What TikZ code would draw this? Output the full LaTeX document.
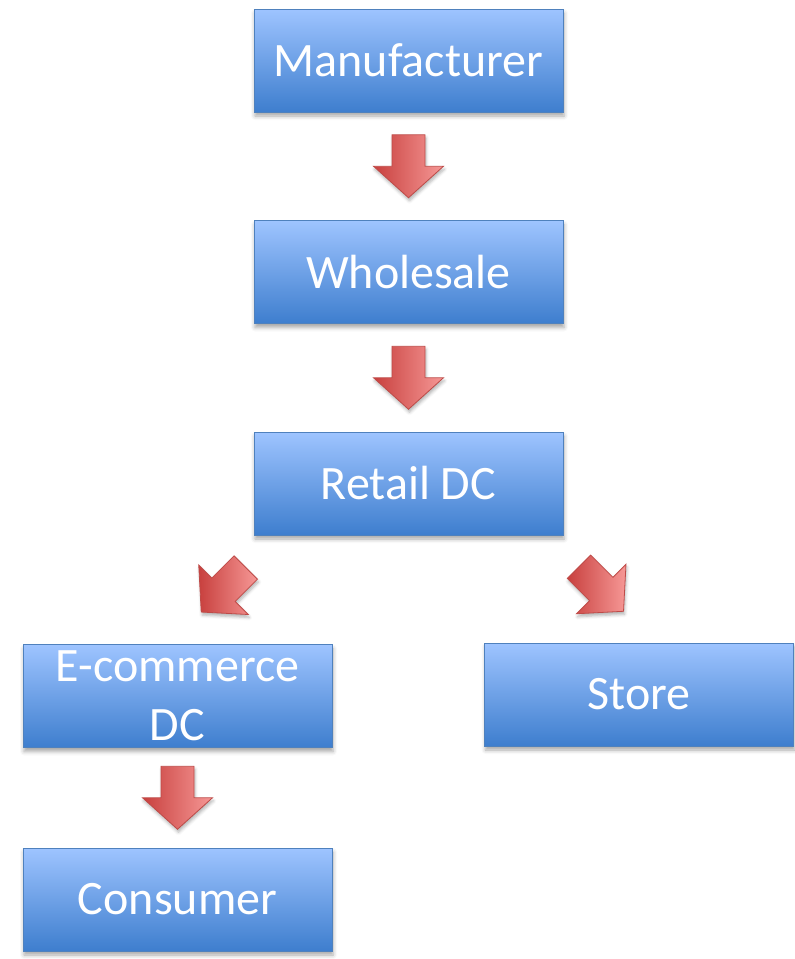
\documentclass[tikz,border=0pt]{standalone}
\usepackage{fontspec}
\setmainfont{Carlito}
\usetikzlibrary{calc,shadows.blur}
\definecolor{boxtop}{RGB}{158,196,255}
\definecolor{boxbot}{RGB}{62,126,206}
\definecolor{boxline}{RGB}{79,129,189}
\definecolor{arrdark}{RGB}{200,64,62}
\definecolor{arrlight}{RGB}{246,152,150}
\definecolor{arrline}{RGB}{190,75,72}
\tikzset{
  box/.style={draw=boxline, line width=1pt, top color=boxtop, bottom color=boxbot,
    minimum width=309pt, minimum height=103pt, inner sep=0pt, text=white,
    font=\fontsize{48}{59}\selectfont, align=center,
    blur shadow={shadow xshift=1pt, shadow yshift=-4pt, shadow blur radius=4pt, shadow opacity=35}},
  blockarr/.pic={
    \path[draw=arrline, line width=0.8pt, left color=arrdark, right color=arrlight,
      blur shadow={shadow xshift=1pt, shadow yshift=-3pt, shadow blur radius=3pt, shadow opacity=30}]
      (-16.5,-31.5) -- (16.5,-31.5) -- (16.5,0) -- (35,0) -- (0,31.5) -- (-35,0) -- (-16.5,0) -- cycle;
  }
}
\begin{document}
\begin{tikzpicture}[x=1pt,y=-1pt]
\useasboundingbox (0,0) rectangle (795,959);
\node[box] (man) at (408.5,60.5) {Manufacturer};
\node[box] (who) at (408.5,272) {Wholesale};
\node[box] (ret) at (408.5,483.5) {Retail DC};
\node[box] (eco) at (177.5,696) {E-commerce\\DC};
\node[box] (sto) at (639,694.5) {Store};
\node[box] (con) at (177.5,899.5) {Consumer};
\pic at ($(man.south)!0.5!(who.north)$) {blockarr};
\pic at ($(who.south)!0.5!(ret.north)$) {blockarr};
\pic[rotate=-45] at ($(ret.south west)!0.5!(eco.north)+(8,0)$) {blockarr};
\pic[rotate=45] at ($(ret.south east)!0.5!(sto.north)$) {blockarr};
\pic at ($(eco.south)!0.5!(con.north)$) {blockarr};
\end{tikzpicture}
\end{document}
